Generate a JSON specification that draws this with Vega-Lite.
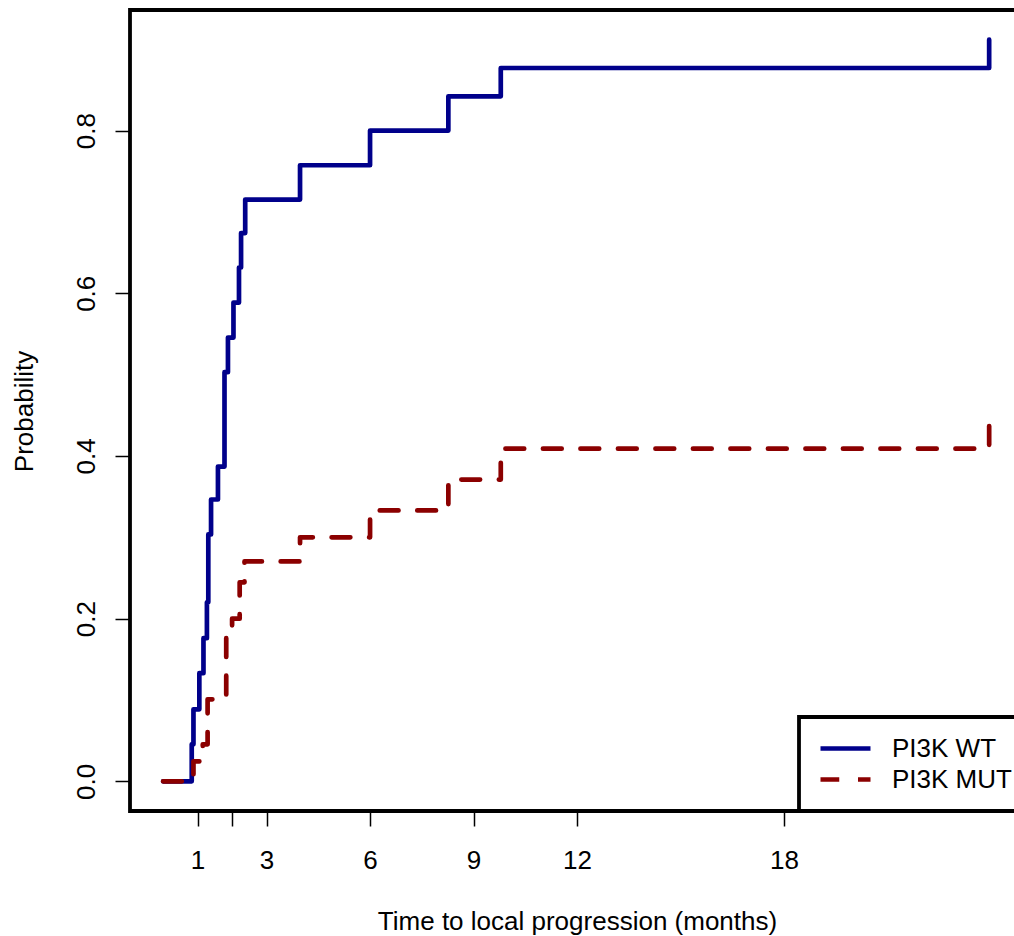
{
  "$schema": "https://vega.github.io/schema/vega-lite/v6.json",
  "width": 894,
  "height": 801,
  "autosize": {"type": "none"},
  "padding": {"left": 130, "top": 10, "right": -10, "bottom": 125},
  "background": "white",
  "config": {
    "font": "Liberation Sans",
    "view": {"stroke": "black", "strokeWidth": 3.8},
    "legend": {"strokeWidth": 3.8},
    "axis": {
      "domain": false,
      "grid": false,
      "ticks": true,
      "tickColor": "black",
      "tickWidth": 1.5,
      "tickSize": 15,
      "labelColor": "black",
      "labelFontSize": 26,
      "labelFont": "Liberation Sans",
      "titleFont": "Liberation Sans",
      "titleFontSize": 26,
      "titleFontWeight": "normal",
      "titleColor": "black"
    }
  },
  "datasets": {
    "curves": [
      {"t": 0, "p": 0, "group": "PI3K WT"},
      {"t": 0.83, "p": 0.0455, "group": "PI3K WT"},
      {"t": 0.88, "p": 0.0885, "group": "PI3K WT"},
      {"t": 1.05, "p": 0.133, "group": "PI3K WT"},
      {"t": 1.17, "p": 0.176, "group": "PI3K WT"},
      {"t": 1.27, "p": 0.22, "group": "PI3K WT"},
      {"t": 1.31, "p": 0.3035, "group": "PI3K WT"},
      {"t": 1.39, "p": 0.3465, "group": "PI3K WT"},
      {"t": 1.59, "p": 0.387, "group": "PI3K WT"},
      {"t": 1.78, "p": 0.503, "group": "PI3K WT"},
      {"t": 1.88, "p": 0.5456, "group": "PI3K WT"},
      {"t": 2.04, "p": 0.5886, "group": "PI3K WT"},
      {"t": 2.2, "p": 0.6317, "group": "PI3K WT"},
      {"t": 2.26, "p": 0.674, "group": "PI3K WT"},
      {"t": 2.38, "p": 0.7152, "group": "PI3K WT"},
      {"t": 3.97, "p": 0.7574, "group": "PI3K WT"},
      {"t": 6.0, "p": 0.8, "group": "PI3K WT"},
      {"t": 8.27, "p": 0.8422, "group": "PI3K WT"},
      {"t": 9.79, "p": 0.877, "group": "PI3K WT"},
      {"t": 23.95, "p": 0.9118, "group": "PI3K WT"},
      {"t": 0, "p": 0, "group": "PI3K MUT"},
      {"t": 0.88, "p": 0.0246, "group": "PI3K MUT"},
      {"t": 1.15, "p": 0.0455, "group": "PI3K MUT"},
      {"t": 1.29, "p": 0.1008, "group": "PI3K MUT"},
      {"t": 1.83, "p": 0.1806, "group": "PI3K MUT"},
      {"t": 2.0, "p": 0.2, "group": "PI3K MUT"},
      {"t": 2.22, "p": 0.2446, "group": "PI3K MUT"},
      {"t": 2.36, "p": 0.2704, "group": "PI3K MUT"},
      {"t": 3.97, "p": 0.3, "group": "PI3K MUT"},
      {"t": 6.0, "p": 0.333, "group": "PI3K MUT"},
      {"t": 8.27, "p": 0.371, "group": "PI3K MUT"},
      {"t": 9.79, "p": 0.409, "group": "PI3K MUT"},
      {"t": 23.95, "p": 0.441, "group": "PI3K MUT"}
    ]
  },
  "data": {"name": "curves"},
  "encoding": {
    "x": {
      "field": "t",
      "type": "quantitative",
      "scale": {"domain": [-0.96, 24.96], "nice": false, "zero": false},
      "axis": {
        "values": [1, 2, 3, 6, 9, 12, 18],
        "labelExpr": "datum.value == 2 ? '' : datum.label",
        "labelFlush": false,
        "labelOverlap": false,
        "labelBaseline": "alphabetic",
        "labelPadding": 42,
        "title": "Time to local progression (months)",
        "titleX": 447,
        "titleY": 118,
        "titleAlign": "center",
        "titleBaseline": "alphabetic"
      }
    },
    "y": {
      "field": "p",
      "type": "quantitative",
      "scale": {"domain": [-0.0365, 0.9483], "nice": false, "zero": false},
      "axis": {
        "values": [0, 0.2, 0.4, 0.6, 0.8],
        "format": ".1f",
        "labelAngle": 270,
        "labelAlign": "center",
        "labelBaseline": "alphabetic",
        "labelPadding": 21,
        "labelFlush": false,
        "labelOverlap": false,
        "title": "Probability",
        "titleAngle": 270,
        "titleX": -98,
        "titleY": 401,
        "titleAlign": "center",
        "titleBaseline": "alphabetic"
      }
    },
    "color": {
      "field": "group",
      "type": "nominal",
      "scale": {"domain": ["PI3K WT", "PI3K MUT"], "range": ["#00008B", "#8B0000"]},
      "legend": {
        "title": null,
        "orient": "none",
        "legendX": 669,
        "legendY": 707,
        "padding": 16,
        "symbolOffset": 3,
        "clipHeight": 31,
        "strokeColor": "black",
        "fillColor": "white",
        "symbolType": "stroke",
        "symbolSize": 2500,
        "symbolStrokeWidth": 4.7,
        "labelFontSize": 26,
        "labelFont": "Liberation Sans",
        "labelColor": "black",
        "labelOffset": 19,
        "rowPadding": 0
      }
    },
    "strokeDash": {
      "field": "group",
      "type": "nominal",
      "scale": {"domain": ["PI3K WT", "PI3K MUT"], "range": [[1, 0], [18.75, 18.75]]},
      "legend": {
        "title": null,
        "orient": "none",
        "legendX": 669,
        "legendY": 707,
        "padding": 16,
        "symbolOffset": 3,
        "clipHeight": 31,
        "strokeColor": "black",
        "fillColor": "white",
        "symbolType": "stroke",
        "symbolSize": 2500,
        "symbolStrokeWidth": 4.7,
        "labelFontSize": 26,
        "labelFont": "Liberation Sans",
        "labelColor": "black",
        "labelOffset": 19,
        "rowPadding": 0
      }
    }
  },
  "layer": [
    {
      "transform": [{"filter": "datum.group == 'PI3K WT'"}],
      "mark": {"type": "line", "interpolate": "step-after", "strokeWidth": 4.7, "strokeCap": "round", "strokeJoin": "round"}
    },
    {
      "transform": [{"filter": "datum.group == 'PI3K MUT'"}],
      "mark": {"type": "line", "interpolate": "step-after", "strokeWidth": 4.7, "strokeCap": "round", "strokeJoin": "round"}
    }
  ]
}
